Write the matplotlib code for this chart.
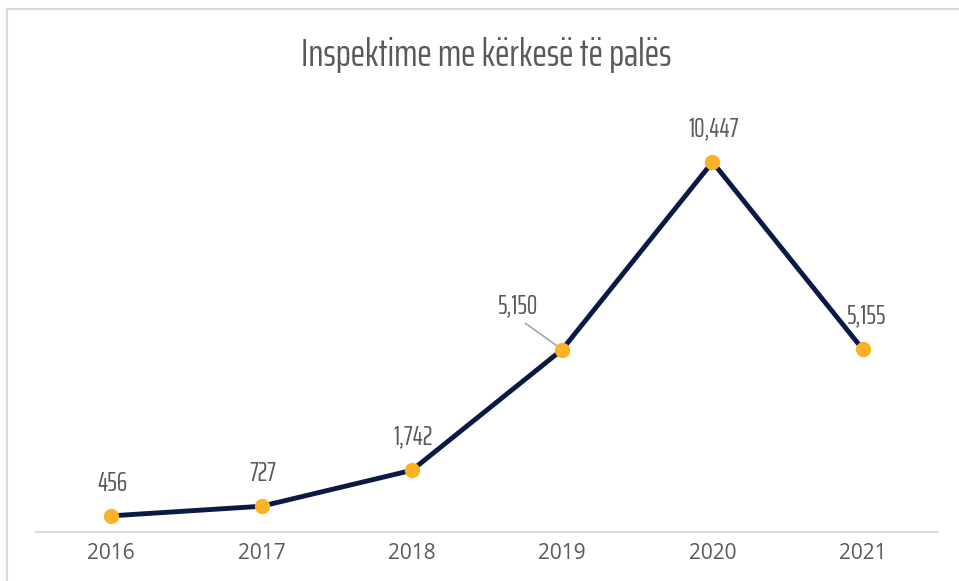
import matplotlib
matplotlib.use("Agg")
import matplotlib.pyplot as plt
from matplotlib import font_manager as fm
from matplotlib.lines import Line2D

years = ["2016", "2017", "2018", "2019", "2020", "2021"]
values = [456, 727, 1742, 5150, 10447, 5155]
labels = ["456", "727", "1,742", "5,150", "10,447", "5,155"]
title = "Inspektime me kërkesë të palës"

names = {f.name for f in fm.fontManager.ttflist}
cond = "Saira ExtraCondensed" if "Saira ExtraCondensed" in names else "DejaVu Sans"
tickfont = "Open Sans" if "Open Sans" in names else "DejaVu Sans"

W, H = 959, 581
fig = plt.figure(figsize=(W / 100, H / 100), dpi=100)
ax = fig.add_axes([36 / W, (H - 532) / H, (938 - 36) / W, (532 - 107) / H])

x = list(range(len(years)))
ax.plot(x, values, color="#0b1a45", lw=3.5, solid_capstyle="round", zorder=2)
ax.plot(x, values, ls="none", marker="o", ms=10, mfc="#fbb226", mec="#fbb226", zorder=3)

ax.set_xlim(-0.5, len(years) - 0.5)
ax.set_ylim(0, 12000)
ax.set_xticks(x)
ax.set_xticklabels(years, fontsize=15, color="#595959", family=tickfont)
ax.tick_params(axis="x", length=0, pad=8)
ax.set_yticks([])
for s in ["top", "right", "left"]:
    ax.spines[s].set_visible(False)
ax.spines["bottom"].set_color("#d9d9d9")
ax.spines["bottom"].set_linewidth(1.3)

offsets = [(1, 32), (1, 33), (1, 33), (-44, 44), (1, 33), (4, 33)]
for i, (v, lab, off) in enumerate(zip(values, labels, offsets)):
    if i == 3:
        ax.annotate(lab, (i, v), xytext=off, textcoords="offset pixels",
                    ha="center", va="center", fontsize=19, color="#595959", family=cond,
                    arrowprops=dict(arrowstyle="-", color="#a6a6a6", lw=1.2,
                                    relpos=(0.5, 0.0), shrinkA=3, shrinkB=0), zorder=1)
    else:
        ax.annotate(lab, (i, v), xytext=off, textcoords="offset pixels",
                    ha="center", va="center", fontsize=19, color="#595959", family=cond)

fig.text(486 / W, (H - 55) / H, title, ha="center", va="center", fontsize=28,
         color="#595959", family=cond)

# chart border (top and left visible)
fig.add_artist(Line2D([7 / W, 7 / W], [0, (H - 9) / H], color="#d9d9d9", lw=1.5,
                      transform=fig.transFigure))
fig.add_artist(Line2D([7 / W, 1], [(H - 9) / H, (H - 9) / H], color="#d9d9d9", lw=1.5,
                      transform=fig.transFigure))

fig.savefig("out.png", dpi=100)
